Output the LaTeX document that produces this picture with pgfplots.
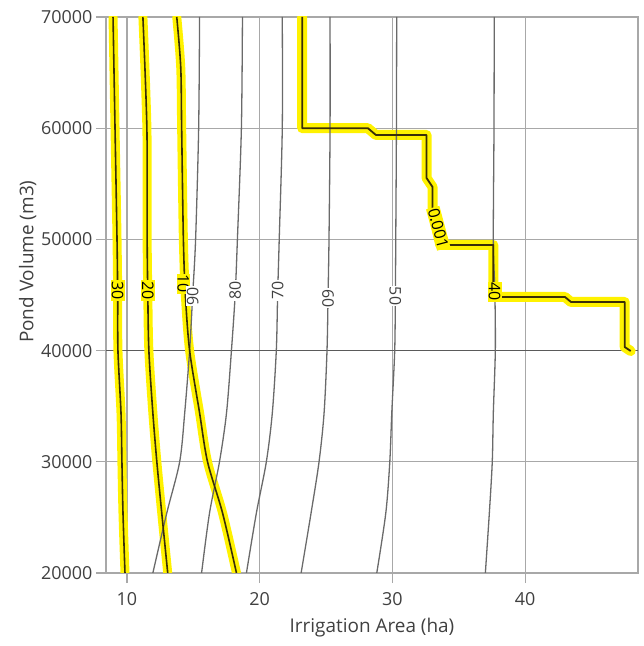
\documentclass[border=0pt]{standalone}
\usepackage{pgfplots}
\pgfplotsset{compat=1.18}
\usepackage{fontspec}
\setmainfont{Open Sans}
\definecolor{txt}{HTML}{404040}
\definecolor{gridc}{HTML}{A8A8A8}
\definecolor{cont}{HTML}{6A6A6A}
\definecolor{dark}{HTML}{3A2E08}
\definecolor{hl}{HTML}{FFF200}
\definecolor{midline}{HTML}{5A5A5A}

\begin{document}
\begin{tikzpicture}[x=1bp,y=1bp]
\useasboundingbox (-106,-73) rectangle (538,573);
\begin{axis}[
  scale only axis, width=532bp, height=556bp,
  xmin=8.42, xmax=48.5, ymin=20000, ymax=70000,
  xtick={10,20,30,40}, ytick={20000,30000,40000,50000,60000,70000},
  grid=major, major grid style={color=gridc, line width=1.2bp},
  axis line style={color=gridc, line width=1.2bp},
  tick style={color=gridc, line width=1.2bp},
  tick align=outside, major tick length=10bp, tick pos=left,
  tick label style={font=\fontsize{18}{20}\selectfont, color=txt},
  xticklabel style={yshift=-6bp},
  /pgf/number format/assume math mode=true,
  /pgf/number format/1000 sep={},
  scaled y ticks=false,
  xlabel={Irrigation Area (ha)}, ylabel={Pond Volume (m3)},
  label style={font=\fontsize{19}{21}\selectfont, color=txt},
  xlabel style={at={(axis description cs:0.5,-0.099)}, anchor=center},
  ylabel style={at={(axis description cs:-0.147,0.56)}, anchor=center},
  clip=true,
]
% darker 40000 line
\addplot[midline, line width=1.6bp] coordinates {(8.42,40000) (48.5,40000)};

% yellow highlights
\begin{scope}[line join=round, line cap=round]
\addplot[hl, line width=9bp, smooth] coordinates {(8.95,70000) (9.1,60000) (9.25,50000) (9.3,45000) (9.32,40000) (9.55,34400) (9.62,30000) (9.7,25400) (9.85,20000)};
\addplot[hl, line width=9bp, smooth] coordinates {(11.2,70000) (11.5,60000) (11.52,50000) (11.57,45000) (11.65,40000) (11.95,34400) (12.25,30000) (12.62,25400) (13.07,20000)};
\addplot[hl, line width=9bp, smooth] coordinates {(13.75,70000) (14.05,65500) (14.12,60000) (14.25,50000) (14.4,45000) (14.72,40000) (15.47,34400) (16.07,30000) (17.2,25400) (18.25,20000)};
\addplot[hl, line width=10bp] coordinates {(23.2,70000) (23.2,60000) (28.15,60000) (28.75,59390) (32.57,59390) (32.57,55520) (33.02,54710) (33.02,52800) (33.6,49500) (37.6,49500) (37.6,44820) (43.0,44820) (43.45,44370) (47.5,44370) (47.5,40320) (47.95,39960)};
\end{scope}

% gray contours
\addplot[cont, line width=1.3bp, smooth] coordinates {(15.47,70000) (15.4,60000) (15.17,50000) (14.95,45000) (14.72,40000) (14.35,34400) (13.97,30000) (13.0,25400) (11.95,20000)};
\addplot[cont, line width=1.3bp, smooth] coordinates {(18.7,70000) (18.62,60000) (18.32,50000) (18.15,45000) (17.87,40000) (17.5,34400) (16.97,30000) (16.22,25400) (15.62,20000)};
\addplot[cont, line width=1.3bp, smooth] coordinates {(21.7,70000) (21.7,60000) (21.47,50000) (21.35,45000) (21.25,40000) (20.95,34400) (20.5,30000) (19.75,25400) (19.0,20000)};
\addplot[cont, line width=1.3bp, smooth] coordinates {(25.3,70000) (25.3,60000) (25.22,50000) (25.15,45000) (25.07,40000) (24.85,34400) (24.47,30000) (23.87,25400) (23.12,20000)};
\addplot[cont, line width=1.3bp, smooth] coordinates {(30.32,70000) (30.3,60000) (30.25,50000) (30.22,45000) (30.17,40000) (29.95,34400) (29.8,30000) (29.5,25400) (28.82,20000)};
\addplot[cont, line width=1.3bp, smooth] coordinates {(37.67,70000) (37.65,60000) (37.6,50000) (37.72,45000) (37.75,40000) (37.6,34400) (37.52,30000) (37.3,25400) (37.0,20000)};

% dark highlighted contours
\addplot[dark, line width=1.6bp, smooth] coordinates {(8.95,70000) (9.1,60000) (9.25,50000) (9.3,45000) (9.32,40000) (9.55,34400) (9.62,30000) (9.7,25400) (9.85,20000)};
\addplot[dark, line width=1.6bp, smooth] coordinates {(11.2,70000) (11.5,60000) (11.52,50000) (11.57,45000) (11.65,40000) (11.95,34400) (12.25,30000) (12.62,25400) (13.07,20000)};
\addplot[dark, line width=1.6bp, smooth] coordinates {(13.75,70000) (14.05,65500) (14.12,60000) (14.25,50000) (14.4,45000) (14.72,40000) (15.47,34400) (16.07,30000) (17.2,25400) (18.25,20000)};
\addplot[dark, line width=1.8bp, line join=round] coordinates {(23.2,70000) (23.2,60000) (28.15,60000) (28.75,59390) (32.57,59390) (32.57,55520) (33.02,54710) (33.02,52800) (33.6,49500) (37.6,49500) (37.6,44820) (43.0,44820) (43.45,44370) (47.5,44370) (47.5,40320) (47.95,39960)};

% contour labels
\tikzset{clab/.style={font=\fontsize{16}{18}\selectfont, text=txt, inner sep=1bp, fill=white},
         ylab/.style={clab, fill=hl, text=black}}
\node[ylab, rotate=-90] at (axis cs:9.3,45400) {30};
\node[ylab, rotate=-90] at (axis cs:11.57,45400) {20};
\node[ylab, rotate=-90] at (axis cs:14.25,46000) {10};
\node[clab, rotate=90] at (axis cs:14.95,44900) {90};
\node[clab, rotate=90] at (axis cs:18.15,45400) {80};
\node[clab, rotate=90] at (axis cs:21.35,45400) {70};
\node[clab, rotate=-90] at (axis cs:25.15,44700) {60};
\node[clab, rotate=-90] at (axis cs:30.22,44900) {50};
\node[ylab, rotate=-90] at (axis cs:37.7,45300) {40};
\node[ylab, rotate=-75] at (axis cs:33.45,51000) {0.001};
\end{axis}
\end{tikzpicture}
\end{document}
